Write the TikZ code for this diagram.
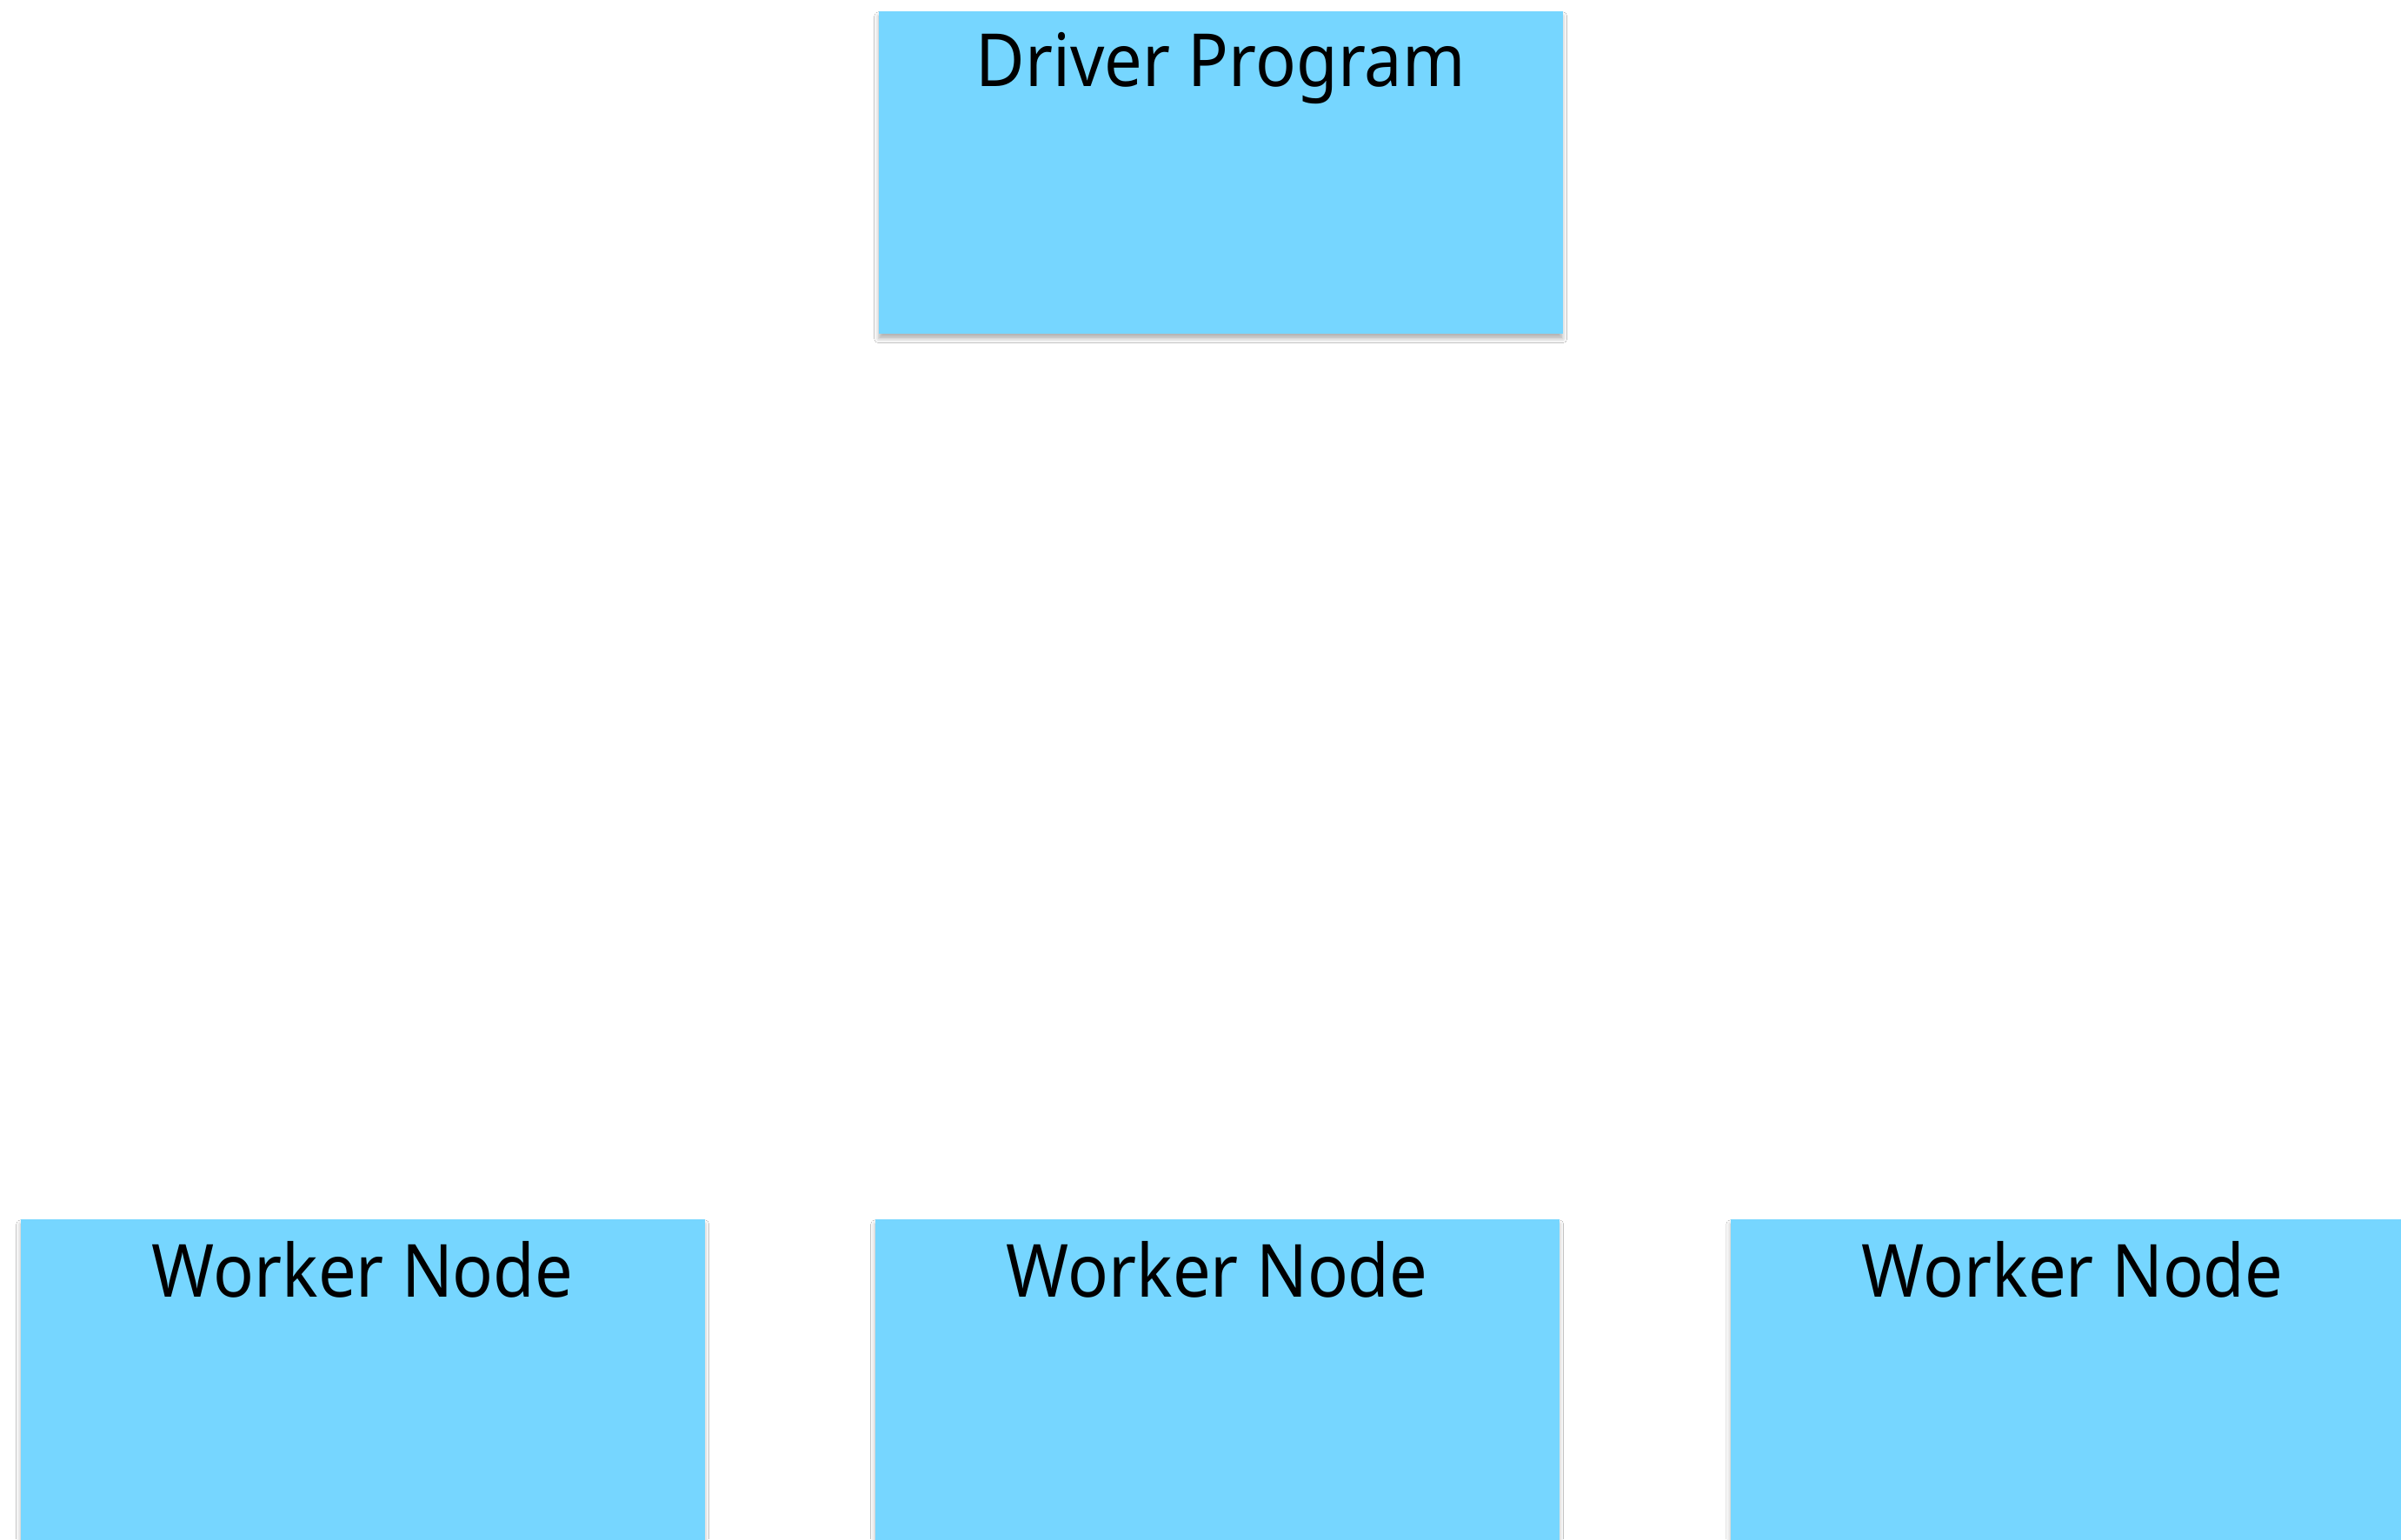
\documentclass[tikz,border=0pt]{standalone}
\usepackage{fontspec}
\setsansfont[FakeStretch=0.92]{Noto Sans}
\usetikzlibrary{shadows.blur}
\definecolor{boxblue}{HTML}{76D6FF}
\tikzset{
  box/.style={rectangle, fill=boxblue, draw=none, minimum width=7.87cm, minimum height=3.71cm,
    inner sep=0pt, anchor=north west,
    blur shadow={shadow xshift=0pt, shadow yshift=-0.06cm, shadow blur radius=0.05cm, shadow opacity=30}},
  title/.style={font=\sffamily\fontsize{24}{28}\selectfont, anchor=base, inner sep=0pt}
}
\begin{document}
\begin{tikzpicture}
\useasboundingbox (0,0) rectangle (27.62,-17.71);
\fill[white] (0,0) rectangle (27.62,-17.71);
\node[box] (driver) at (10.10,-0.12) {};
\node[box] (w1) at (0.23,-14.02) {};
\node[box] (w2) at (10.06,-14.02) {};
\node[box] (w3) at (19.90,-14.02) {};
\node[title] (tdriver) at ([yshift=-0.87cm]driver.north) {Driver Program};
\node[title] (tw1) at ([yshift=-0.90cm]w1.north) {Worker Node};
\node[title] (tw2) at ([yshift=-0.90cm]w2.north) {Worker Node};
\node[title] (tw3) at ([yshift=-0.90cm]w3.north) {Worker Node};
\end{tikzpicture}
\end{document}
